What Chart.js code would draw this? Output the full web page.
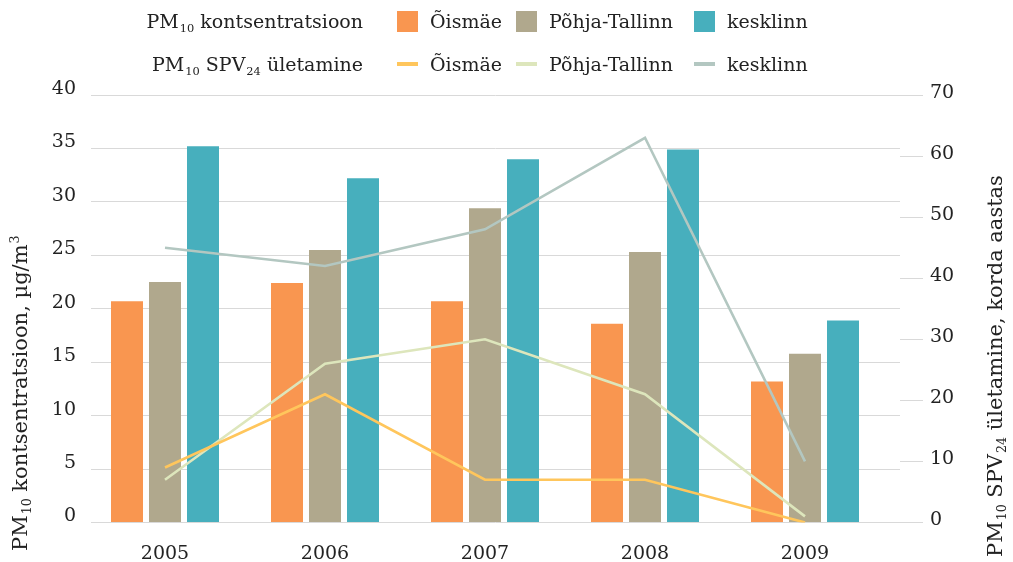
<!DOCTYPE html>
<html>
<head>
<meta charset="utf-8">
<script src="https://cdn.jsdelivr.net/npm/chart.js@4/dist/chart.umd.min.js"></script>
<style>
  html, body { margin: 0; padding: 0; background: #ffffff; }
  #wrap { position: relative; width: 1013px; height: 562px; overflow: hidden;
          font-family: "DejaVu Serif", serif; color: #222222; }
  #c { position: absolute; left: 0; top: 0; }
  .lg-title { position: absolute; right: 650px; height: 24px; line-height: 24px;
              font-size: 19px; white-space: nowrap; text-align: right; }
  .lg-item { position: absolute; height: 24px; display: flex; align-items: center;
             font-size: 19px; white-space: nowrap; }
  .lg-box { width: 21px; height: 21px; margin-right: 12px; flex: none; }
  .lg-line { width: 21px; height: 4px; margin-right: 12px; flex: none; }
  .sub { font-size: 0.6em; position: relative; top: 0.35em; margin-left: 1px; }
  .sup { font-size: 0.6em; position: relative; top: -0.6em; margin-left: 1px; }
  .ytitle { position: absolute; transform-origin: 0 0; transform: rotate(-90deg);
            font-size: 21px; line-height: 24px; height: 24px; white-space: nowrap; }
</style>
</head>
<body>
<div id="wrap">
  <canvas id="c" width="1013" height="562"></canvas>
  <div id="legend"></div>
  <div class="ytitle" id="yTitleLeft" style="left:8px; top:551px;">PM<span class="sub">10</span> kontsentratsioon, µg/m<span class="sup">3</span></div>
  <div class="ytitle" id="yTitleRight" style="left:983px; top:557px;">PM<span class="sub">10</span> SPV<span class="sub">24</span> ületamine, korda aastas</div>
</div>
<script>
// ---- data ----
const years = ['2005', '2006', '2007', '2008', '2009'];
const districts = ['Õismäe', 'Põhja-Tallinn', 'kesklinn'];

// PM10 concentration, µg/m3 (bars, left axis)
const concOismae    = [20.7, 22.4, 20.7, 18.6, 13.2];
const concPohja     = [22.5, 25.5, 29.4, 25.3, 15.8];
const concKesklinn  = [35.2, 32.2, 34.0, 34.9, 18.9];

// PM10 SPV24 exceedances, times per year (lines, right axis)
const exceedOismae   = [9, 21, 7, 7, 0];
const exceedPohja    = [7, 26, 30, 21, 1];
const exceedKesklinn = [45, 42, 48, 63, 10];

const legendTitleBars  = 'PM<span class="sub">10</span> kontsentratsioon';
const legendTitleLines = 'PM<span class="sub">10</span> SPV<span class="sub">24</span> ületamine';

const barColors  = ['#F99650', '#B0A88D', '#47AFBD'];
const lineColors = ['#FFC65C', '#DDE6BC', '#B3C7C1'];

// ---- build datasets ----
const toXY = arr => arr.map((v, i) => ({ x: i, y: v }));
const concSeries = [concOismae, concPohja, concKesklinn];
const exceedSeries = [exceedOismae, exceedPohja, exceedKesklinn];

const datasets = [];
exceedSeries.forEach((arr, k) => {
  datasets.push({
    type: 'line', label: districts[k] + ' (SPV24)', data: toXY(arr), yAxisID: 'y2', xAxisID: 'x',
    borderColor: lineColors[k], backgroundColor: lineColors[k], borderWidth: 2.6,
    pointRadius: 0, tension: 0, order: 0, fill: false
  });
});
concSeries.forEach((arr, k) => {
  datasets.push({
    type: 'bar', label: districts[k], data: toXY(arr), yAxisID: 'y', xAxisID: 'x',
    backgroundColor: barColors[k], borderWidth: 0,
    categoryPercentage: 0.7125, barPercentage: 0.842, order: 1
  });
});

const tickFont = { family: '"DejaVu Serif", serif', size: 19 };
const tickColor = '#222222';
const gridColor = '#d9d9d9';

new Chart(document.getElementById('c'), {
  type: 'bar',
  data: { datasets },
  options: {
    responsive: false, animation: false, devicePixelRatio: 1,
    layout: { padding: { top: 95, left: 0, right: 0, bottom: 0 } },
    plugins: { legend: { display: false }, tooltip: { enabled: false } },
    scales: {
      x: {
        type: 'linear', position: 'bottom', min: -0.4625, max: 4.59375, offset: false,
        grid: { display: false }, border: { display: false },
        ticks: {
          stepSize: 1, autoSkip: false, maxRotation: 0, includeBounds: false,
          padding: 12, color: tickColor, font: tickFont,
          callback: v => (Number.isInteger(v) && years[v] !== undefined) ? years[v] : null
        },
        afterFit: s => { s.height = 39.5; }
      },
      y: {
        position: 'left', min: 0, max: 40,
        grid: { color: gridColor, lineWidth: 1, drawTicks: false },
        border: { display: false },
        ticks: { stepSize: 5, padding: 15, labelOffset: -6, color: tickColor, font: tickFont },
        afterFit: s => { s.width = 91; }
      },
      y2: {
        position: 'right', min: 0, max: 70,
        grid: { drawOnChartArea: false, drawTicks: true, tickLength: 23, color: gridColor, lineWidth: 1 },
        border: { display: false },
        ticks: { stepSize: 10, padding: 7, labelOffset: -2, color: tickColor, font: tickFont },
        afterFit: s => { s.width = 113; }
      }
    }
  }
});

// ---- HTML legend ----
const legend = document.getElementById('legend');
const colLeft = [397, 516, 694];
const rows = [
  { title: legendTitleBars, center: 21, marker: 'lg-box', colors: barColors },
  { title: legendTitleLines, center: 64, marker: 'lg-line', colors: lineColors }
];
rows.forEach(r => {
  const t = document.createElement('div');
  t.className = 'lg-title';
  t.style.top = (r.center - 12) + 'px';
  t.innerHTML = r.title;
  legend.appendChild(t);
  districts.forEach((name, k) => {
    const it = document.createElement('div');
    it.className = 'lg-item';
    it.style.top = (r.center - 12) + 'px';
    it.style.left = colLeft[k] + 'px';
    const m = document.createElement('span');
    m.className = r.marker;
    m.style.background = r.colors[k];
    const tx = document.createElement('span');
    tx.textContent = name;
    it.appendChild(m); it.appendChild(tx);
    legend.appendChild(it);
  });
});
</script>
</body>
</html>
